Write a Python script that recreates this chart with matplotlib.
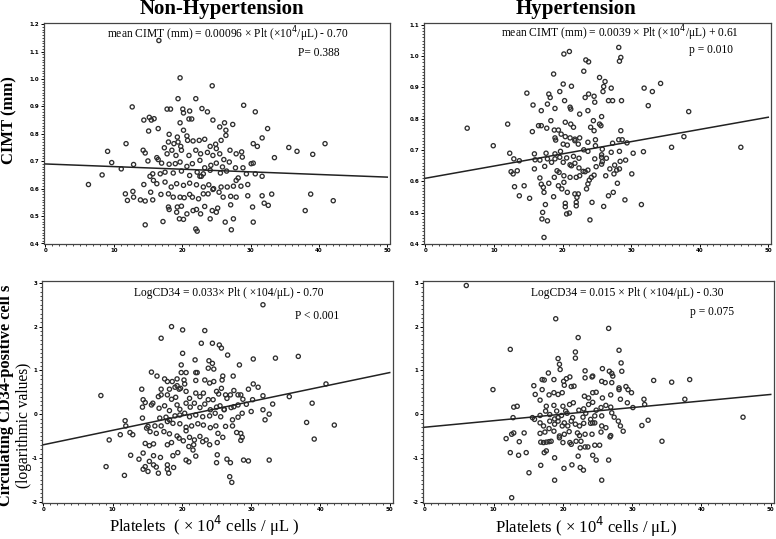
import matplotlib
matplotlib.use("Agg")
import numpy as np
import matplotlib.pyplot as plt
from matplotlib.ticker import MultipleLocator

# ---- data ----
# Non-hypertension: platelets (x10^4/uL) vs mean CIMT (mm)
nonht_cimt_plt = [16.6, 19.7, 24.4, 19.4, 22.0, 12.7, 17.8, 18.3, 20.1, 21.1, 20.2, 22.9, 23.7, 29.0, 30.7,
                  14.4, 15.2, 15.5, 15.9, 19.7, 21.0, 21.4, 24.5, 25.5, 26.2, 27.4, 26.4, 16.5, 15.1, 18.1,
                  20.2, 20.7, 19.3, 32.5, 31.7, 30.4, 31.0, 11.8, 9.1, 9.7, 12.9, 11.1, 8.3, 35.6, 36.8,
                  39.1, 40.9, 33.5, 6.3,
                  17.4, 18.0, 18.8, 19.4, 19.8, 20.8, 21.6, 22.5, 23.3, 24.1, 24.9, 25.7, 26.4, 27.0,
                  14.3, 14.6, 16.3, 17.8, 18.5, 19.1, 19.9, 21.0, 22.0, 22.7, 23.7, 24.5, 25.5, 26.1,
                  27.9, 28.7, 28.8, 25.0,
                  15.0, 16.5, 17.0, 18.1, 19.0, 19.7, 20.7, 21.5, 22.6, 23.3, 24.2, 25.0, 25.9, 26.9,
                  27.8, 28.9, 30.1, 30.4,
                  15.3, 15.7, 16.8, 17.5, 18.7, 19.9, 21.1, 22.2, 23.1, 24.1, 25.6, 26.5, 28.2, 30.7,
                  31.7, 29.4,
                  14.4, 15.8, 16.3, 17.5, 18.4, 19.2, 20.2, 21.1, 22.1, 23.1, 23.9, 24.6, 25.7, 26.6,
                  27.5, 28.6, 29.6, 27.9, 22.6, 22.8,
                  11.7, 12.8, 12.0, 12.9, 13.9, 14.6, 15.4, 15.7, 16.9, 18.0, 18.7, 19.7, 20.3, 21.1,
                  21.5, 22.4, 23.1, 23.8, 24.5, 25.4, 26.0, 27.1, 27.9, 29.6, 31.7, 33.1, 32.0, 32.6,
                  30.3, 38.8, 42.1, 38.0,
                  18.0, 18.1, 19.3, 19.9, 21.6, 22.1, 23.3, 24.4, 25.2, 25.0, 27.1, 19.2, 20.7,
                  14.6, 17.2, 19.6, 20.2, 22.7, 24.1, 26.3, 27.5, 30.4, 22.0, 22.2, 27.2]
nonht_cimt = [1.14, 1.004, 0.975, 0.928, 0.928, 0.898, 0.89, 0.89, 0.89, 0.883, 0.876, 0.892, 0.88, 0.904, 0.88,
              0.85, 0.86, 0.85, 0.855, 0.84, 0.854, 0.854, 0.85, 0.825, 0.84, 0.834, 0.813, 0.819, 0.81, 0.798,
              0.813, 0.792, 0.788, 0.819, 0.785, 0.764, 0.754, 0.764, 0.736, 0.695, 0.688, 0.672, 0.65, 0.75, 0.736,
              0.725, 0.764, 0.713, 0.615,
              0.749, 0.770, 0.764, 0.770, 0.754, 0.776, 0.774, 0.776, 0.780, 0.754, 0.762, 0.776, 0.794, 0.740,
              0.740, 0.730, 0.713, 0.727, 0.740, 0.721, 0.740, 0.721, 0.740, 0.727, 0.732, 0.721, 0.727, 0.706,
              0.727, 0.734, 0.715, 0.746,
              0.701, 0.706, 0.693, 0.689, 0.691, 0.697, 0.681, 0.691, 0.703, 0.676, 0.685, 0.693, 0.679, 0.697,
              0.676, 0.676, 0.691, 0.693,
              0.645, 0.654, 0.654, 0.660, 0.657, 0.664, 0.648, 0.660, 0.654, 0.667, 0.657, 0.664, 0.639, 0.654,
              0.645, 0.654,
              0.615, 0.630, 0.618, 0.624, 0.606, 0.618, 0.612, 0.620, 0.614, 0.606, 0.614, 0.600, 0.606, 0.606,
              0.609, 0.609, 0.615, 0.630, 0.645, 0.645,
              0.581, 0.590, 0.557, 0.569, 0.559, 0.555, 0.587, 0.559, 0.579, 0.581, 0.569, 0.569, 0.567, 0.579,
              0.569, 0.563, 0.581, 0.581, 0.597, 0.587, 0.569, 0.572, 0.569, 0.574, 0.574, 0.580, 0.547, 0.539,
              0.533, 0.580, 0.556, 0.520,
              0.533, 0.524, 0.533, 0.536, 0.520, 0.524, 0.535, 0.520, 0.529, 0.514, 0.541, 0.514, 0.508,
              0.468, 0.480, 0.490, 0.488, 0.508, 0.490, 0.478, 0.490, 0.478, 0.453, 0.445, 0.450]

# Hypertension: platelets vs mean CIMT
ht_cimt_plt = [28.2, 28.5, 28.3, 20.2, 21.0, 23.4, 23.8, 23.1, 18.7, 25.4, 26.2, 26.0, 25.9, 27.1, 20.1,
               21.3, 19.6, 14.8, 18.0, 18.2, 23.3, 23.8, 24.6, 24.7, 26.7, 27.3, 28.6, 31.9, 33.1, 34.3,
               32.5, 38.4, 15.7, 16.9, 17.8, 18.9, 20.3, 21.1, 21.2, 22.5, 23.7, 25.7, 24.5, 18.3, 20.4,
               21.2, 21.6, 24.1, 25.4, 25.6, 12.0, 6.1, 16.5, 16.9, 17.7, 15.6, 18.8, 19.4, 19.8, 20.4,
               21.1, 21.8, 22.5, 24.6, 28.5, 28.2, 28.7, 37.7, 9.9, 18.9, 19.0, 20.1, 20.7, 21.8, 22.3,
               23.7, 24.8, 24.8, 25.8, 27.3, 29.4, 35.9, 46.0, 12.3, 15.9, 17.6, 18.9, 19.7, 20.6, 21.6,
               22.4, 23.1, 23.7, 24.7, 25.7, 25.7, 25.8, 26.4, 27.1, 28.3, 28.4, 29.2, 30.3, 31.8, 12.9,
               13.7, 16.0, 16.7, 17.8, 18.9, 19.6, 12.5, 12.8, 13.4, 15.9, 17.4, 18.4, 20.1, 21.1, 21.3,
               21.8, 22.4, 23.3, 23.7, 24.2, 24.6, 24.9, 25.7, 26.3, 26.9, 27.6, 27.9, 27.5, 28.3, 30.1,
               16.7, 16.9, 18.0, 17.2, 17.3, 18.8, 19.2, 19.5, 20.2, 20.2, 21.1, 22.0, 22.5, 23.0, 23.9,
               23.7, 23.5, 19.4, 19.9, 20.7, 21.8, 22.3, 22.1, 13.0, 14.4, 13.7, 15.2, 18.7, 17.5, 20.4,
               20.4, 22.0, 22.0, 28.0, 27.4, 26.7, 26.0, 24.3, 29.1, 31.5, 20.6, 21.0, 17.1, 17.0, 17.8,
               24.0, 17.3]
ht_cimt = [1.028, 0.996, 0.984, 1.007, 1.015, 0.988, 0.982, 0.952, 0.943, 0.932, 0.919, 0.903, 0.887, 0.898, 0.911,
           0.904, 0.887, 0.882, 0.879, 0.868, 0.868, 0.879, 0.872, 0.853, 0.858, 0.858, 0.858, 0.898, 0.887, 0.913,
           0.842, 0.823, 0.844, 0.826, 0.847, 0.833, 0.858, 0.837, 0.831, 0.815, 0.826, 0.807, 0.794, 0.794, 0.789,
           0.783, 0.773, 0.773, 0.783, 0.778, 0.783, 0.77, 0.778, 0.778, 0.77, 0.759, 0.764, 0.764, 0.751, 0.743,
           0.739, 0.735, 0.739, 0.762, 0.762, 0.733, 0.733, 0.743, 0.714, 0.739, 0.732, 0.719, 0.716, 0.73, 0.719,
           0.725, 0.733, 0.714, 0.703, 0.722, 0.723, 0.709, 0.709, 0.69, 0.688, 0.69, 0.688, 0.696, 0.675, 0.68,
           0.674, 0.701, 0.696, 0.672, 0.685, 0.677, 0.663, 0.674, 0.693, 0.696, 0.664, 0.668, 0.69, 0.695, 0.672,
           0.666, 0.669, 0.668, 0.672, 0.672, 0.677, 0.631, 0.624, 0.634, 0.64, 0.648, 0.661, 0.661, 0.653, 0.65,
           0.658, 0.643, 0.631, 0.636, 0.613, 0.62, 0.647, 0.655, 0.618, 0.64, 0.652, 0.636, 0.624, 0.64, 0.624,
           0.611, 0.591, 0.594, 0.581, 0.565, 0.613, 0.634, 0.629, 0.618, 0.597, 0.613, 0.613, 0.618, 0.632, 0.604,
           0.592, 0.576, 0.586, 0.576, 0.565, 0.56, 0.56, 0.549, 0.583, 0.586, 0.554, 0.546, 0.551, 0.526, 0.53,
           0.519, 0.533, 0.522, 0.594, 0.565, 0.554, 0.52, 0.533, 0.541, 0.526, 0.496, 0.499, 0.501, 0.48, 0.474,
           0.477, 0.421]

# Non-hypertension: platelets vs log CD34
nonht_cd34_plt = [31.7, 18.5, 20.1, 23.3, 17.0, 22.8, 24.4, 25.4, 25.7, 20.1, 26.6, 21.9, 23.9, 24.4, 23.8,
                  24.6, 30.3, 33.5, 36.8, 28.3, 19.9, 15.6, 16.4, 17.5, 17.9, 18.6, 19.3, 19.9, 20.6, 22.0,
                  22.2, 19.3, 19.8, 20.3, 20.4, 22.0, 23.3, 24.6, 25.9, 25.8, 27.4, 14.2, 17.0, 18.2, 19.0,
                  19.6, 24.0, 25.0, 25.7, 27.5, 29.6, 30.3, 31.0, 8.3, 14.4, 14.7, 15.8, 16.6, 17.0, 17.9,
                  18.5, 19.1, 20.6, 21.1, 22.0, 22.6, 23.1, 23.8, 24.5, 25.3, 26.3, 26.5, 27.0, 28.1, 28.5,
                  28.8, 30.2, 31.7, 35.5, 40.8, 14.3, 15.6, 16.7, 17.5, 18.2, 19.3, 19.7, 20.6, 21.2, 21.8,
                  22.6, 23.3, 24.1, 25.0, 25.5, 26.1, 27.1, 27.5, 28.1, 29.3, 31.7, 33.1, 38.8, 32.6, 32.0,
                  11.8, 11.9, 16.8, 17.7, 18.2, 19.0, 19.7, 20.4, 21.1, 22.0, 23.0, 24.0, 24.8, 25.6, 26.1,
                  27.3, 28.1, 28.7, 30.0, 14.3, 15.1, 16.1, 17.0, 17.9, 18.7, 19.7, 20.6, 21.4, 22.3, 23.1,
                  24.1, 24.9, 27.3, 38.0, 42.0, 11.1, 9.5, 12.5, 12.9, 14.9, 15.4, 16.3, 17.4, 18.2, 19.3,
                  20.6, 21.1, 21.8, 22.6, 23.5, 24.0, 25.1, 25.2, 25.9, 26.3, 27.9, 28.5, 28.7, 28.5, 14.7,
                  15.3, 15.9, 17.9, 18.5, 19.6, 20.2, 21.0, 21.7, 23.0, 21.6, 39.1, 12.6, 14.4, 15.9, 16.9,
                  18.7, 19.4, 20.6, 21.0, 22.0, 25.1, 25.0, 26.5, 27.0, 28.9, 29.6, 32.6, 13.8, 14.7, 15.3,
                  15.9, 16.3, 14.4, 15.1, 16.6, 17.9, 17.9, 18.1, 18.8, 9.05, 11.7, 26.9, 27.2]
nonht_cd34 = [2.50, 2.0, 1.925, 1.91, 1.735, 1.62, 1.62, 1.58, 1.51, 1.39, 1.35, 1.24, 1.22, 1.16, 1.05,
              1.03, 1.26, 1.28, 1.32, 1.125, 1.125, 0.96, 0.87, 0.805, 0.745, 0.745, 0.805, 0.95, 0.95, 0.95,
              0.95, 0.65, 0.59, 0.78, 0.69, 0.77, 0.78, 0.745, 0.87, 0.78, 0.87, 0.57, 0.57, 0.57, 0.615,
              0.57, 0.71, 0.52, 0.59, 0.54, 0.57, 0.69, 0.615, 0.425, 0.33, 0.265, 0.25, 0.40, 0.44, 0.44,
              0.34, 0.385, 0.52, 0.36, 0.48, 0.40, 0.48, 0.33, 0.33, 0.46, 0.44, 0.36, 0.44, 0.44, 0.44,
              0.34, 0.33, 0.42, 0.40, 0.69, 0.16, 0.21, 0.135, 0.19, 0.08, 0.21, 0.11, 0.25, 0.16, 0.25,
              0.15, 0.23, 0.10, 0.16, 0.19, 0.11, 0.15, 0.17, 0.21, 0.225, 0.10, 0.23, 0.25, 0.0, -0.13,
              -0.15, -0.27, -0.09, -0.07, -0.13, -0.04, -0.02, 0.02, -0.06, -0.02, -0.06, -0.04, 0.02, -0.06, 0.10,
              -0.13, -0.07, 0.02, 0.06, -0.09, -0.28, -0.27, -0.27, -0.17, -0.21, -0.22, -0.30, -0.27, -0.22, -0.25,
              -0.31, -0.27, -0.27, -0.19, -0.25, -0.47, -0.59, -0.42, -0.47, -0.32, -0.40, -0.44, -0.40, -0.45, -0.50,
              -0.38, -0.53, -0.59, -0.51, -0.59, -0.70, -0.65, -0.44, -0.53, -0.28, -0.42, -0.44, -0.53, -0.60, -0.67,
              -0.72, -0.68, -0.70, -0.65, -0.55, -0.61, -0.74, -0.70, -0.63, -0.82, -0.57, -0.94, -0.89, -0.95, -0.99,
              -0.95, -0.88, -1.05, -1.09, -0.96, -0.93, -1.11, -1.03, -1.11, -1.05, -1.07, -1.05, -1.03, -1.20, -1.08,
              -1.16, -1.21, -1.26, -1.31, -1.35, -1.16, -1.26, -1.35, -1.22, -1.2, -1.40, -1.43, -1.56]

# Hypertension: platelets vs log CD34
ht_cd34_plt = [6.05, 18.96, 26.6, 22.2, 12.4, 21.8, 21.8, 28.1, 19.3, 19.5, 19.6, 17.9, 18.7, 17.3, 17.0,
               20.5, 20.1, 21.0, 20.2, 21.2, 21.6, 23.2, 24.3, 23.2, 24.2, 25.7, 26.7, 27.05, 27.2, 28.4,
               28.5, 25.6, 26.1, 27.05, 28.1, 28.1, 29.1, 29.4, 29.9, 33.1, 35.7, 38.3, 9.9, 15.8, 17.0,
               16.0, 18.0, 18.7, 19.3, 19.9, 23.1, 23.7, 24.3, 24.8, 25.7, 26.9, 28.3, 29.3, 30.1, 31.7,
               31.8, 37.6, 12.9, 13.4, 16.7, 17.6, 18.7, 19.1, 20.0, 20.4, 20.96, 21.5, 22.3, 23.0, 23.7,
               24.3, 24.8, 25.5, 26.2, 26.9, 12.8, 15.6, 15.9, 16.7, 17.5, 18.1, 18.8, 19.3, 19.8, 20.6,
               21.4, 22.9, 23.3, 24.0, 24.6, 25.6, 27.05, 27.4, 28.0, 28.3, 28.7, 31.4, 32.3, 46.0, 16.7,
               17.2, 18.1, 18.8, 19.3, 19.9, 20.2, 20.7, 21.2, 21.8, 22.4, 23.0, 24.0, 24.3, 24.6, 25.6,
               26.2, 11.8, 12.6, 12.9, 13.7, 14.4, 16.7, 17.4, 18.0, 18.7, 19.5, 20.2, 20.9, 22.1, 22.4,
               23.2, 24.2, 25.5, 26.9, 26.8, 16.8, 17.2, 17.6, 18.0, 18.3, 19.5, 20.0, 21.0, 21.2, 21.9,
               22.6, 23.2, 23.6, 24.6, 25.3, 22.5, 34.3, 12.4, 13.6, 14.7, 17.3, 17.6, 18.8, 22.2, 24.3,
               24.8, 26.6, 16.8, 20.15, 21.3, 22.5, 22.96, 15.1, 18.8, 25.6, 12.6]
ht_cd34 = [2.94, 2.18, 1.96, 1.75, 1.48, 1.42, 1.28, 1.46, 1.27, 1.14, 1.02, 0.94, 0.79, 0.78, 0.79,
           0.81, 0.75, 0.85, 0.66, 0.63, 0.64, 0.99, 0.87, 0.83, 0.85, 1.04, 0.98, 0.93, 0.87, 1.17,
           0.98, 0.75, 0.72, 0.72, 0.60, 0.56, 0.63, 0.56, 0.49, 0.77, 0.73, 0.79, 0.56, 0.65, 0.56,
           0.45, 0.44, 0.49, 0.45, 0.49, 0.41, 0.37, 0.49, 0.50, 0.37, 0.44, 0.34, 0.26, 0.15, 0.34,
           0.22, 0.34, 0.16, 0.18, 0.32, 0.18, 0.2, 0.07, 0.18, 0.07, 0.22, 0.26, 0.09, 0.12, 0.22,
           0.27, 0.09, 0.15, 0.2, 0.16, -0.08, -0.08, -0.12, -0.03, 0.07, -0.01, -0.11, -0.08, -0.03, 0.02,
           -0.08, -0.07, 0.02, -0.12, -0.04, -0.04, 0.03, -0.07, -0.16, -0.27, -0.39, -0.26, -0.14, -0.07, -0.2,
           -0.27, -0.16, -0.23, -0.16, -0.27, -0.2, -0.27, -0.16, -0.23, -0.27, -0.21, -0.21, -0.2, -0.2, -0.27,
           -0.31, -0.56, -0.46, -0.43, -0.63, -0.43, -0.44, -0.41, -0.33, -0.39, -0.50, -0.46, -0.40, -0.43, -0.49,
           -0.46, -0.46, -0.41, -0.49, -0.52, -0.64, -0.65, -0.64, -0.63, -0.62, -0.54, -0.65, -0.65, -0.69, -0.62,
           -0.62, -0.75, -0.75, -0.71, -0.71, -0.77, -0.62, -0.88, -0.94, -0.88, -0.88, -0.84, -0.998, -0.96, -0.94,
           -1.05, -1.05, -1.17, -1.24, -1.16, -1.22, -1.28, -1.34, -1.51, -1.51, -1.91]

# regression lines as drawn in the figure (intercept, slope)
nonht_cimt_fit = (0.69, -0.00096)
ht_cimt_fit = (0.61, 0.0039)
nonht_cd34_fit = (-0.70, 0.033)
ht_cd34_fit = (-0.30, 0.015)

plt.rcParams['font.family'] = ['Liberation Serif', 'DejaVu Serif']
W, H = 776, 539
fig = plt.figure(figsize=(W / 100, H / 100), dpi=100)


def px_axes(l, t, r, b):
    return fig.add_axes([l / W, 1 - b / H, (r - l) / W, (b - t) / H])


def panel(ax, xs, ys, fit, ylim, ymajor, yminor, yfmt):
    ax.scatter(xs, ys, s=9, facecolors='none', edgecolors='#2e2e2e', linewidths=0.95, zorder=3)
    xx = np.array([0, 50])
    ax.plot(xx, fit[0] + fit[1] * xx, color='#222222', lw=1.1, zorder=4)
    ax.set_xlim(-0.2, 50.4)
    ax.set_ylim(*ylim)
    ax.xaxis.set_major_locator(MultipleLocator(10))
    ax.xaxis.set_minor_locator(MultipleLocator(1))
    ax.yaxis.set_major_locator(MultipleLocator(ymajor))
    ax.yaxis.set_minor_locator(MultipleLocator(yminor))
    ax.yaxis.set_major_formatter(plt.FormatStrFormatter(yfmt))
    ax.tick_params(which='major', direction='out', length=2.2, width=0.7, labelsize=4, pad=1)
    ax.tick_params(which='minor', direction='out', length=1.2, width=0.5)
    for lab in ax.get_xticklabels() + ax.get_yticklabels():
        lab.set_fontweight('bold')
        lab.set_family('DejaVu Sans')
    for sp in ax.spines.values():
        sp.set_linewidth(0.9)
        sp.set_color('#444444')


ax_tl = px_axes(44, 22.7, 390, 243.5)
panel(ax_tl, nonht_cimt_plt, nonht_cimt, nonht_cimt_fit, (0.4, 1.205), 0.1, 0.01, '%.1f')
ax_tr = px_axes(424, 22.7, 771, 244)
panel(ax_tr, ht_cimt_plt, ht_cimt, ht_cimt_fit, (0.4, 1.107), 0.1, 0.01, '%.1f')
ax_bl = px_axes(42, 280.7, 392.5, 502.5)
panel(ax_bl, nonht_cd34_plt, nonht_cd34, nonht_cd34_fit, (-2.02, 3.05), 1, 0.1, '%d')
ax_br = px_axes(423, 280.7, 773.5, 502.5)
panel(ax_br, ht_cd34_plt, ht_cd34, ht_cd34_fit, (-2.02, 3.05), 1, 0.1, '%d')


def ftext(x, y, s, **kw):
    fig.text(x / W, 1 - y / H, s, ha='center', va='center', **kw)


# column titles
ftext(221.7, 9, 'Non-Hypertension', fontsize=15, fontweight='bold')
ftext(576.5, 9, 'Hypertension', fontsize=15, fontweight='bold')

# equations and p values
ftext(228, 34, 'mean CIMT (mm) = 0.00096 × Plt (×10$^{4}$/μL) - 0.70', fontsize=8.3)
ftext(319, 53, 'P= 0.388', fontsize=8.3)
ftext(619.5, 33, 'mean CIMT (mm) = 0.0039 × Plt (×10$^{4}$/μL) + 0.61', fontsize=8.3)
ftext(711, 50, 'p = 0.010', fontsize=8.3)
ftext(229, 293, 'LogCD34 = 0.033× Plt ( ×104/μL) - 0.70', fontsize=8.3)
ftext(316.7, 315.7, 'P < 0.001', fontsize=8.3)
ftext(627, 293, 'LogCD34 = 0.015 × Plt ( ×104/μL) - 0.30', fontsize=8.3)
ftext(712, 312.3, 'p = 0.075', fontsize=8.3)

# axis labels
ftext(9, 120, 'CIMT (mm)', fontsize=12, fontweight='bold', rotation=90)
ftext(6.5, 395, 'Circulating CD34-positive cell s', fontsize=11.8, fontweight='bold', rotation=90)
ftext(24.5, 425, '(logarithmic values)', fontsize=11.2, rotation=90)
ftext(204, 526, 'Platelets  ( × 10$^{4}$ cells / μL )', fontsize=12)
ftext(585.5, 527, 'Platelets ( × 10$^{4}$ cells / μL)', fontsize=12)

fig.savefig('out.png', dpi=100)
